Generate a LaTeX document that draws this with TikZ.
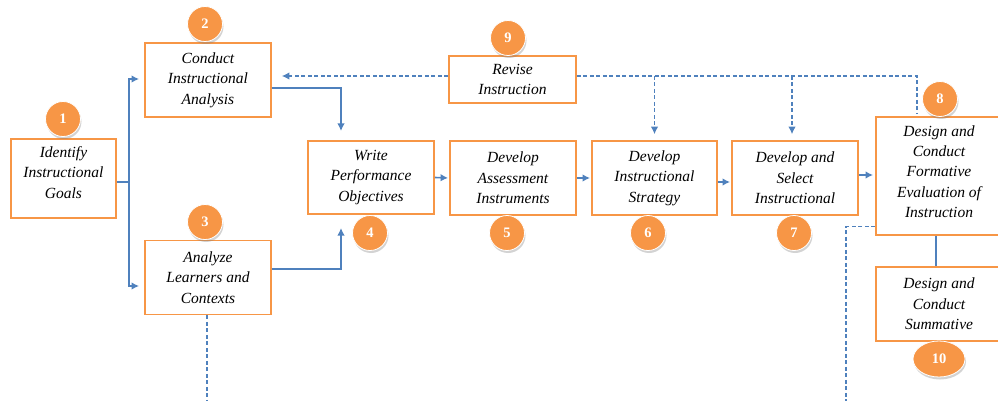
\documentclass[tikz,border=0pt]{standalone}
\usepackage{fontspec}
\setmainfont{Liberation Serif}
\usepackage{xcolor}
\usepackage{tikz}
\usetikzlibrary{calc,arrows.meta,shadows,shapes.geometric}

\definecolor{boxorange}{HTML}{F79646}
\definecolor{flowblue}{HTML}{4F81BD}

\tikzset{
	stepbox/.style={draw=boxorange,line width=1.8pt,fill=white,align=center,
		inner sep=2pt,font=\fontsize{15.5}{20.3}\selectfont\itshape},
	badge/.style={circle,fill=boxorange,draw=white,line width=0.8pt,minimum size=35pt,
		inner sep=0pt,text depth=0pt,text=white,font=\fontsize{14.5}{14.5}\selectfont\bfseries,
		drop shadow={opacity=0.35,shadow xshift=1pt,shadow yshift=-2.5pt}},
	flow/.style={flowblue,line width=1.6pt},
	loop/.style={flowblue,line width=1.1pt,dash pattern=on 4pt off 2.5pt},
}

\begin{document}
\begin{tikzpicture}[x=1pt,y=-1pt,>={Latex[length=7.5pt,width=7.5pt]}]
			\useasboundingbox (0,0) rectangle (998,401);
			
			% the boxes of the model
			\node[stepbox,minimum width=105pt,minimum height=79pt,text depth=12pt] (b1) at (63.5,178.5) {Identify\\Instructional\\Goals};
			\node[stepbox,minimum width=126pt,minimum height=74pt] (b2) at (208,80) {Conduct\\Instructional\\Analysis};
			\node[stepbox,minimum width=126pt,minimum height=74pt] (b3) at (208,277.5) {Analyze\\Learners and\\Contexts};
			\node[stepbox,minimum width=126pt,minimum height=73pt] (b4) at (371,177.5) {Write\\Performance\\Objectives};
			\node[stepbox,minimum width=126pt,minimum height=74pt] (b5) at (513,178) {Develop\\Assessment\\Instruments};
			\node[stepbox,minimum width=125pt,minimum height=74pt] (b6) at (654.5,178) {Develop\\Instructional\\Strategy};
			\node[stepbox,minimum width=126pt,minimum height=74pt] (b7) at (795,178) {Develop and\\Select\\Instructional};
			\node[stepbox,minimum width=126pt,minimum height=118pt,text depth=9pt] (b8) at (939,176) {Design and\\Conduct\\Formative\\Evaluation of\\Instruction};
			\node[stepbox,minimum width=127pt,minimum height=47pt,text depth=0pt] (b9) at (512.5,79.5) {Revise\\Instruction};
			\node[stepbox,minimum width=126pt,minimum height=74pt] (b10) at (939,304) {Design and\\Conduct\\Summative};
			
			% numbers
			\node[badge] (n1) at (63,119) {1};
			\node[badge] (n2) at (205,24) {2};
			\node[badge] (n3) at (205,222) {3};
			\node[badge] (n4) at (370,233) {4};
			\node[badge] (n5) at (507,233) {5};
			\node[badge] (n6) at (648,233) {6};
			\node[badge] (n7) at (794,233) {7};
			\node[badge] (n8) at (940,99) {8};
			\node[badge] (n9) at (508,38) {9};
			\node[badge,ellipse,minimum width=52pt,minimum height=36pt] (n10) at (939,359) {10};
			
			\coordinate (split) at (129,182);
			\coordinate (in4a) at (341,131);
			\coordinate (in4b) at (341,228);
			\coordinate (ret8) at (917,114);
			\coordinate (out8) at (846,401);
			
			% solid flow
			\draw[flow] ($(b1.east)+(0,3.5)$) -- (split);
			\draw[flow,->,shorten >=5pt] (split) |- ($(b2.west)+(0,-1)$);
			\draw[flow,->,shorten >=5pt] (split) |- ($(b3.west)+(0,8.5)$);
			\draw[flow,->] ($(b2.east)+(0,8)$) -| (in4a);
			\draw[flow,->] ($(b3.east)+(0,-8.5)$) -| (in4b);
			\draw[flow,->,shorten >=1pt] (b4.east) -- (b5.west);
			\draw[flow,->,shorten >=1pt] (b5.east) -- (b6.west);
			\draw[flow,->,shorten >=1pt] ($(b6.east)+(0,4)$) -- ($(b7.west)+(0,4)$);
			\draw[flow,->,shorten >=2pt] ($(b7.east)+(0,-3)$) -- ($(b7.east -| b8.west)+(0,-3)$);
			\draw[flow] ($(b8.south)+(-3,0)$) -- ($(b10.north)+(-3,0)$);
			
			% revision loops
			\draw[loop,->,shorten >=10pt] ($(b9.west)+(0,-3.5)$) -- ($(b2.east |- b9.west)+(0,-3.5)$);
			\draw[loop] ($(b9.east)+(0,-3.5)$) -| (ret8);
			\draw[loop,->,shorten >=6pt] ($(b6.north |- b9.east)+(0,-3.5)$) -- (b6.north);
			\draw[loop,->,shorten >=6pt] ($(b7.north |- b9.east)+(-3,-3.5)$) -- ($(b7.north)+(-3,0)$);
			\draw[loop] ($(b8.south west)+(0,-9)$) -| (out8);
			\draw[loop] ($(b3.south)+(-1,0)$) -- ($(b3.south |- out8)+(-1,0)$);
		\end{tikzpicture}
\end{document}
